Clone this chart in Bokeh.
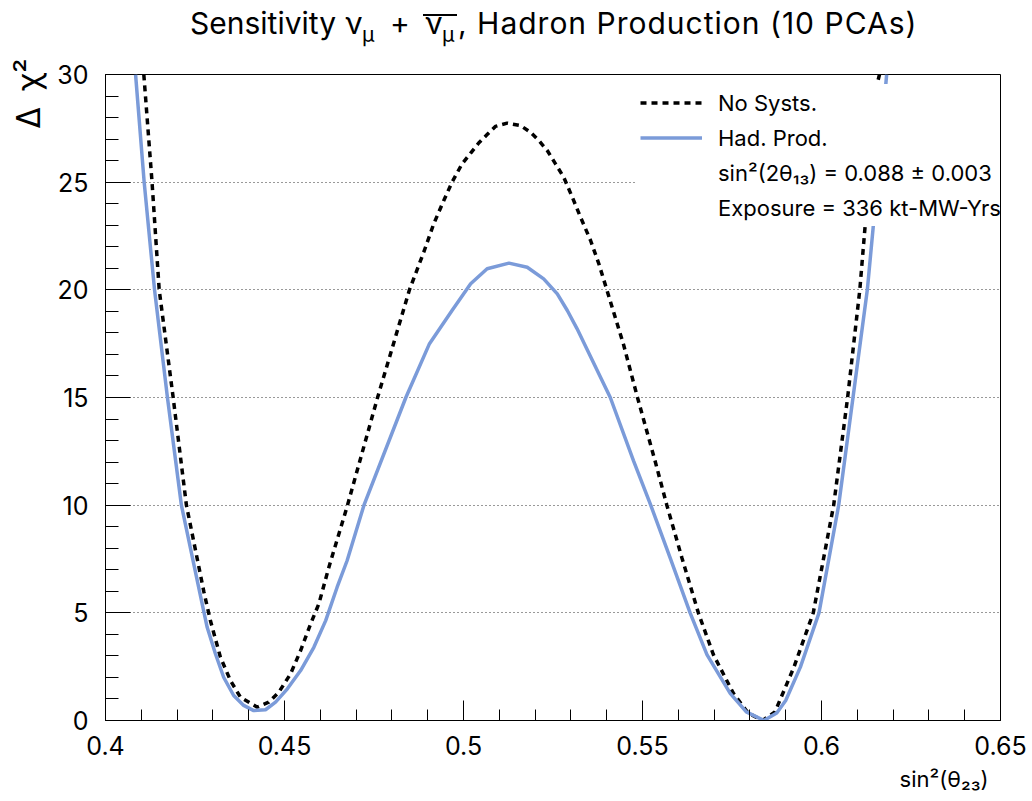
from bokeh.plotting import figure
from bokeh.models import (ColumnDataSource, FixedTicker, Legend, LegendItem,
                          Range1d, Title, Div)
from bokeh.layouts import column
from bokeh.embed import file_html
from bokeh.resources import INLINE

# ---------------- data ----------------
had_x = [0.4084, 0.4108, 0.4137, 0.4173, 0.4212, 0.4265, 0.4284, 0.4307, 0.4330,
         0.4358, 0.4386, 0.4414, 0.4447, 0.4475, 0.4508, 0.4545, 0.4582, 0.4615,
         0.4647, 0.4675, 0.4722, 0.4839, 0.4905, 0.4968, 0.5020, 0.5066, 0.5127,
         0.5178, 0.5224, 0.5262, 0.5290, 0.5317, 0.5410, 0.5475, 0.5523, 0.5577,
         0.5633, 0.5680, 0.5745, 0.5790, 0.5839, 0.5875, 0.5900, 0.5941, 0.5993,
         0.6048, 0.6088, 0.6128, 0.6144, 0.6182]
had_y = [30.0, 25.0, 20.0, 15.0, 10.0, 5.81, 4.33, 3.10, 2.01,
         1.16, 0.70, 0.46, 0.50, 0.85, 1.47, 2.32, 3.40, 4.64,
         6.19, 7.43, 10.0, 15.0, 17.5, 19.04, 20.28, 20.98, 21.24,
         21.05, 20.51, 19.81, 19.04, 18.2, 15.0, 12.06, 10.0, 7.56,
         5.0, 3.06, 1.26, 0.40, 0.0, 0.35, 0.93, 2.48, 5.0,
         10.0, 15.0, 20.0, 22.84, 30.0]

nosys_x = [0.4107, 0.4130, 0.4150, 0.4189, 0.4226, 0.4275, 0.4293, 0.4321, 0.4349,
           0.4377, 0.4424, 0.4456, 0.4484, 0.4517, 0.4545, 0.4573, 0.4596, 0.4624,
           0.4676, 0.4760, 0.4849, 0.4889, 0.4917, 0.4945, 0.4968, 0.4996, 0.5020,
           0.5043, 0.5066, 0.5089, 0.5122, 0.5159, 0.5187, 0.5210, 0.5234, 0.5257,
           0.5280, 0.5304, 0.5327, 0.5355, 0.5378, 0.5401, 0.5447, 0.5486, 0.5535,
           0.5568, 0.5610, 0.5656, 0.5698, 0.5754, 0.5795, 0.5835, 0.5870, 0.5923,
           0.5977, 0.6034, 0.6073, 0.6107, 0.6120, 0.6156, 0.6162]
nosys_y = [30.0, 25.0, 20.0, 15.0, 10.0, 5.96, 4.64, 2.94, 1.86,
           1.08, 0.62, 0.85, 1.31, 2.17, 3.25, 4.49, 5.42, 7.12,
           10.0, 15.0, 20.0, 21.75, 23.07, 24.15, 25.0, 25.85, 26.35,
           26.83, 27.21, 27.59, 27.74, 27.63, 27.32, 26.94, 26.47, 25.85,
           25.23, 24.30, 23.37, 22.29, 21.21, 19.97, 17.46, 15.0, 12.06,
           10.0, 7.56, 5.0, 3.06, 1.26, 0.35, 0.0, 0.40, 2.48,
           5.0, 10.0, 15.0, 20.0, 22.6, 29.6, 30.0]

x_ticks = [0.4, 0.45, 0.5, 0.55, 0.6, 0.65]
x_tick_labels = ["0.4", "0.45", "0.5", "0.55", "0.6", "0.65"]
y_ticks = [0, 5, 10, 15, 20, 25, 30]
y_tick_labels = ["0", "5", "10", "15", "20", "25", "30"]
grid_levels = [5, 10, 15, 20, 25]

legend_labels = ["No Systs.", "Had. Prod.",
                 "sin\u00b2(2\u03b8\u2081\u2083) = 0.088 \u00b1 0.003",
                 "Exposure = 336 kt-MW-Yrs"]
x_title = "sin\u00b2(\u03b8\u2082\u2083)"
y_title = "\u0394\u2002\u03c7\u00b2"

FONT = "Inter"
BLUE = "#7b9bd9"

# ---------------- layout constants ----------------
XMIN, XMAX, YMIN, YMAX = 0.4, 0.65, 0.0, 30.0
W = 1032
HEAD = 60                      # height of the title strip
L, R, T, B = 105, 32, 14, 81
PH = 801 - HEAD
FH = PH - T - B                # frame height (646)
FRAME_BOTTOM = HEAD + T + FH   # 720 in page pixels

# ---------------- title strip (real text with sub-scripts) ----------------
def piece(text, left, baseline, size, spacing=0.0):
    top = baseline - 0.864 * size
    return ('<span style="position:absolute;left:%dpx;top:%.1fpx;font-size:%dpx;'
            'line-height:%dpx;letter-spacing:%.1fpx;white-space:nowrap;">%s</span>'
            % (left, top, size, size, spacing, text))

title_html = (
    '<div style="position:relative;width:%dpx;height:%dpx;font-family:Inter,sans-serif;'
    'color:black;margin:0;padding:0;">' % (W, HEAD)
    + piece("Sensitivity", 190, 34, 30, 0.0)
    + piece("\u03bd", 345, 34, 30)
    + piece("\u03bc", 362, 42, 21)
    + piece("+", 390, 34, 30)
    + piece("\u03bd", 425, 34, 30)
    + piece("\u03bc", 442, 42, 21)
    + piece(", Hadron Production (10 PCAs)", 458, 34, 30, 1.0)
    + '<div style="position:absolute;left:423px;top:14px;width:34px;height:2px;'
      'background:black;"></div>'
    + '</div>')
header = Div(text=title_html, width=W, height=HEAD, margin=0)

# ---------------- figure ----------------
p = figure(width=W, height=PH, output_backend="svg", toolbar_location=None,
           x_range=Range1d(XMIN, XMAX), y_range=Range1d(YMIN, YMAX),
           min_border_left=L, min_border_right=R, min_border_top=T, min_border_bottom=B,
           background_fill_color="white", border_fill_color="white", margin=0)
p.title.visible = False

# grid
p.xgrid.visible = False
p.ygrid.ticker = FixedTicker(ticks=grid_levels)
p.ygrid.grid_line_color = "#333333"
p.ygrid.grid_line_dash = "1 3"
p.ygrid.grid_line_width = 1

# axes
xa = p.xaxis[0]
xa.ticker = FixedTicker(ticks=x_ticks,
                        minor_ticks=[round(0.4 + 0.01 * i, 2) for i in range(26)])
xa.major_label_overrides = {t: s for t, s in zip(x_ticks, x_tick_labels)}
ya = p.yaxis[0]
ya.ticker = FixedTicker(ticks=y_ticks, minor_ticks=list(range(0, 31)))
ya.major_label_overrides = {t: s for t, s in zip(y_ticks, y_tick_labels)}

for ax, tin, mtin, standoff in ((xa, 20, 11, 15), (ya, 25, 13, 17)):
    ax.major_tick_in = tin
    ax.major_tick_out = 0
    ax.minor_tick_in = mtin
    ax.minor_tick_out = 0
    ax.major_tick_line_color = "black"
    ax.minor_tick_line_color = "black"
    ax.axis_line_color = "black"
    ax.major_label_text_font = FONT
    ax.major_label_text_font_size = "25px"
    ax.major_label_text_color = "black"
    ax.major_label_standoff = standoff

p.outline_line_color = "black"
p.outline_line_width = 1

# axis titles, aligned at the axis ends as in the reference
ytitle = Title(text=y_title, align="right", vertical_align="middle", offset=-16,
               standoff=12, text_font=FONT, text_font_size="32px",
               text_font_style="normal", text_color="black")
p.add_layout(ytitle, "left")
xtitle = Title(text=x_title, align="right", vertical_align="bottom", offset=12,
               standoff=12, text_font=FONT, text_font_size="22px",
               text_font_style="normal", text_color="black")
p.add_layout(xtitle, "below")

# curves
src_n = ColumnDataSource(dict(x=nosys_x, y=nosys_y))
src_h = ColumnDataSource(dict(x=had_x, y=had_y))
r_n = p.line("x", "y", source=src_n, line_color="black", line_width=3.5,
             line_dash="6 5")
r_h = p.line("x", "y", source=src_h, line_color=BLUE, line_width=3.5)
r_t1 = p.line(x=[], y=[], line_alpha=0)
r_t2 = p.line(x=[], y=[], line_alpha=0)

legend = Legend(items=[LegendItem(label=legend_labels[0], renderers=[r_n]),
                       LegendItem(label=legend_labels[1], renderers=[r_h]),
                       LegendItem(label=legend_labels[2], renderers=[r_t1]),
                       LegendItem(label=legend_labels[3], renderers=[r_t2])],
                location=(635 - L, FRAME_BOTTOM - 226),
                background_fill_color="white", background_fill_alpha=1.0,
                border_line_alpha=0, padding=5, spacing=8, margin=0,
                glyph_width=62, glyph_height=27, label_height=27, label_standoff=16,
                label_text_font=FONT, label_text_font_size="22px",
                label_text_color="black")
p.add_layout(legend, "center")

page = column(header, p, spacing=0)
open("out.html", "w").write(file_html(page, INLINE))
